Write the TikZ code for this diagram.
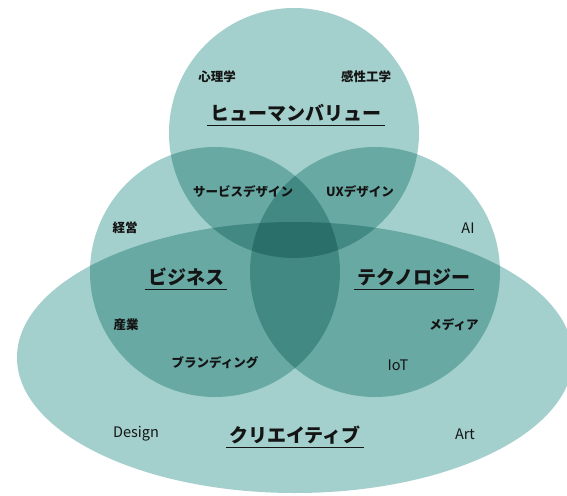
\documentclass[tikz,border=0pt]{standalone}
\usepackage{fontspec}
\setmainfont{Noto Sans CJK JP}
\definecolor{vteal}{RGB}{163,208,205}
\definecolor{vtext}{RGB}{20,20,20}
\begin{document}
\begin{tikzpicture}[x=1pt,y=-1pt,
  area/.style={fill=vteal},
  lab/.style={font=\fontsize{12.5}{14}\selectfont\bfseries, text=vtext, inner sep=0pt},
  latin/.style={font=\fontsize{14.5}{16}\selectfont, text=vtext, inner sep=0pt},
  ttl/.style={font=\fontsize{19}{22}\selectfont\bfseries, text=vtext, inner xsep=3pt, inner ysep=0pt},
  uline/.style={line width=1.1pt, draw=vtext}]
\useasboundingbox (0,0) rectangle (567,495);
% sets
\begin{scope}[blend mode=multiply]
\path[area] (294,133) circle (125pt);
\path[area] (215,272) circle (125pt);
\path[area] (375,272) circle (125pt);
\path[area] (295,357.5) ellipse [x radius=278pt, y radius=135.5pt];
\end{scope}
% titles
\node[ttl] (hv) at (296,113) {ヒューマンバリュー};
\node[ttl] (bz) at (186,277) {ビジネス};
\node[ttl] (tc) at (414,277) {テクノロジー};
\node[ttl] (cr) at (295,435) {クリエイティブ};
\foreach \n in {hv,bz,tc,cr}
  \draw[uline] ([yshift=-12.5pt]\n.west) -- ([yshift=-12.5pt]\n.east);
% labels
\node[lab] (l1) at (217,77) {心理学};
\node[lab] (l2) at (366,77) {感性工学};
\node[lab] (l3) at (243,192) {サービスデザイン};
\node[lab] (l4) at (360,192) {UXデザイン};
\node[lab] (l5) at (125,228) {経営};
\node[latin] (l6) at (468,228) {AI};
\node[lab] (l7) at (126,325) {産業};
\node[lab] (l8) at (215,363) {ブランディング};
\node[lab] (l9) at (454,325) {メディア};
\node[latin] (l10) at (398,365) {IoT};
\node[latin] (l11) at (136,434) {Design};
\node[latin] (l12) at (465,434) {Art};
\end{tikzpicture}
\end{document}
